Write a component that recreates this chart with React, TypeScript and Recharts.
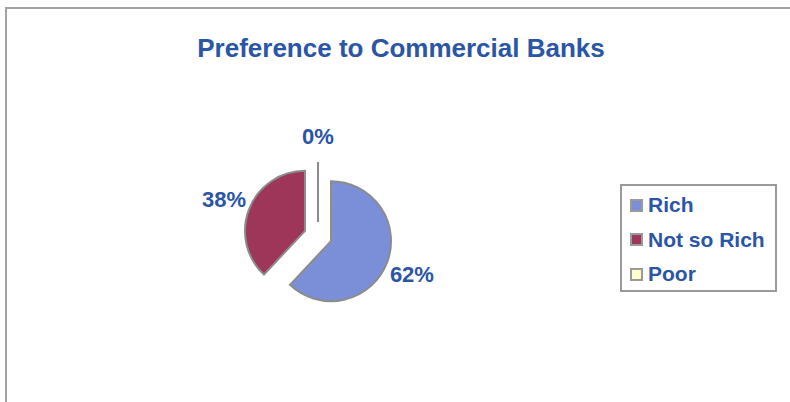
import { PieChart, Pie, Cell, Sector, Legend } from "recharts";

// pie data
const groups = ["Rich", "Not so Rich", "Poor"];
const shares = [62, 38, 0];
const sliceColors = ["#7b8fd9", "#9e3659", "#ffffcc"];

const data = groups.map((name, i) => ({ name, value: shares[i] }));

const BLUE = "#2b55a5";
const EDGE = "#8c8c8c";
const EXPLODE = 14;
const RADIAN = Math.PI / 180;

// every slice is pushed out along its mid angle
const ExplodedSlice = (props: any) => {
  const { cx, cy, midAngle, outerRadius, startAngle, endAngle } = props;
  const dx = EXPLODE * Math.cos(-midAngle * RADIAN);
  const dy = EXPLODE * Math.sin(-midAngle * RADIAN);
  if (Math.abs(endAngle - startAngle) < 0.01) {
    // zero slice: only its edge shows
    const a = -startAngle * RADIAN;
    return (
      <line
        x1={cx + dx}
        y1={cy + dy}
        x2={cx + dx + outerRadius * Math.cos(a)}
        y2={cy + dy + outerRadius * Math.sin(a)}
        stroke={EDGE}
        strokeWidth={2}
      />
    );
  }
  return (
    <Sector
      cx={cx + dx}
      cy={cy + dy}
      innerRadius={0}
      outerRadius={outerRadius}
      startAngle={startAngle}
      endAngle={endAngle}
      fill={props.fill}
      stroke={EDGE}
      strokeWidth={2}
    />
  );
};

const renderLabel = (props: any) => {
  const { cx, cy, midAngle, outerRadius, percent } = props;
  const r = outerRadius + 41;
  const x = cx + r * Math.cos(-midAngle * RADIAN);
  const y = cy + r * Math.sin(-midAngle * RADIAN);
  return (
    <text
      x={x}
      y={y + 1}
      textAnchor="middle"
      dominantBaseline="central"
      fill={BLUE}
      fontSize={22}
      fontWeight="bold"
      fontFamily="'Liberation Sans', Arial, sans-serif"
    >
      {`${Math.round(percent * 100)}%`}
    </text>
  );
};

// legend keeps the data order (recharts would sort it by name)
const renderLegend = () => (
  <div
    style={{
      boxSizing: "border-box",
      width: 157,
      height: 108,
      border: "2px solid #9a9a9a",
      padding: "2px 0 0 8px",
      fontFamily: "'Liberation Sans', Arial, sans-serif",
    }}
  >
    {groups.map((g, i) => (
      <div key={g} style={{ display: "flex", alignItems: "center", height: 34.5 }}>
        <span
          style={{
            display: "inline-block",
            boxSizing: "border-box",
            width: 13,
            height: 13,
            background: sliceColors[i],
            border: "2px solid #9a9a9a",
            marginRight: 5,
          }}
        />
        <span style={{ color: BLUE, fontSize: 21, fontWeight: "bold" }}>{g}</span>
      </div>
    ))}
  </div>
);

export default function App() {
  return (
    <div
      style={{
        position: "fixed",
        left: 0,
        top: 0,
        width: 790,
        height: 402,
        background: "#fff",
        overflow: "hidden",
      }}
    >
      <div
        style={{
          position: "absolute",
          left: 5,
          top: 7,
          width: 820,
          height: 430,
          border: "2px solid #a3a3a3",
        }}
      />
      <div
        style={{
          position: "absolute",
          left: 0,
          top: 33,
          width: 802,
          textAlign: "center",
          color: BLUE,
          fontSize: 26,
          fontWeight: "bold",
          fontFamily: "'Liberation Sans', Arial, sans-serif",
          lineHeight: "30px",
        }}
      >
        Preference to Commercial Banks
      </div>
      <div style={{ position: "absolute", left: 0, top: 0 }}>
        <PieChart width={790} height={402} margin={{ top: 0, right: 0, bottom: 0, left: 0 }}>
          <Pie
            data={data}
            dataKey="value"
            nameKey="name"
            cx={318}
            cy={236}
            outerRadius={60}
            startAngle={90}
            endAngle={-270}
            label={renderLabel}
            labelLine={false}
            shape={ExplodedSlice}
            activeShape={ExplodedSlice}
            inactiveShape={ExplodedSlice}
            isAnimationActive={false}
          >
            {data.map((d, i) => (
              <Cell key={d.name} fill={sliceColors[i]} />
            ))}
          </Pie>
          <Legend
            layout="vertical"
            align="right"
            verticalAlign="top"
            content={renderLegend}
            wrapperStyle={{ left: 620, top: 184, width: 157, height: 108 }}
          />
        </PieChart>
      </div>
    </div>
  );
}
